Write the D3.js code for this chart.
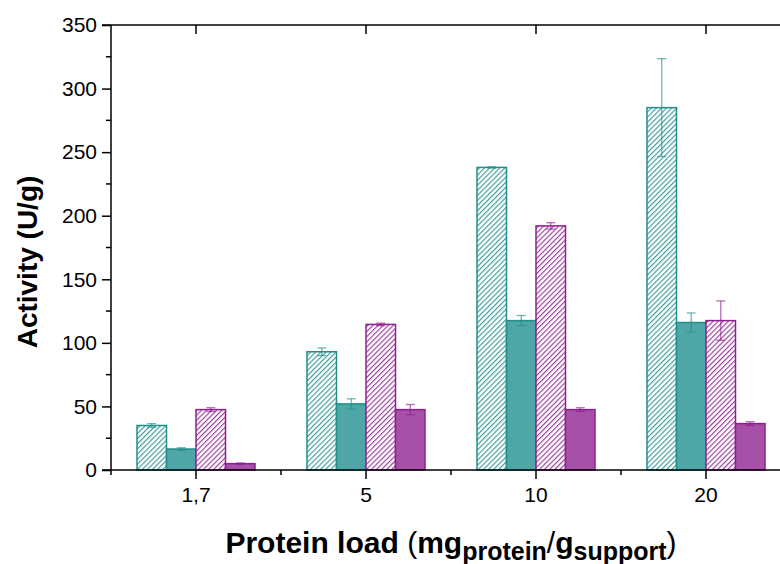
<!DOCTYPE html>
<html>
<head>
<meta charset="utf-8">
<script src="https://cdn.jsdelivr.net/npm/d3@7"></script>
<style>
  body { margin: 0; background: #fff; }
  svg { display: block; font-family: "Liberation Sans", Arial, sans-serif; }
</style>
</head>
<body>
<div id="chart"></div>
<script>
// data
var categories = ["1,7", "5", "10", "20"];
var seriesNames = ["tealHatched", "tealSolid", "purpleHatched", "purpleSolid"];
var tealHatched = [35, 93, 238, 285];
var tealSolid = [16.5, 52, 117.5, 116];
var purpleHatched = [47.5, 114.5, 192, 117.5];
var purpleSolid = [5, 47.5, 47.5, 36.5];
var tealHatchedErr = [1.5, 3, 0.5, 38.5];
var tealSolidErr = [1, 4, 4, 7.5];
var purpleHatchedErr = [1.5, 1, 2.5, 15.5];
var purpleSolidErr = [0.5, 4, 1.5, 1.5];
var yTicks = [0, 50, 100, 150, 200, 250, 300, 350];

var values = [tealHatched, tealSolid, purpleHatched, purpleSolid];
var errors = [tealHatchedErr, tealSolidErr, purpleHatchedErr, purpleSolidErr];

let width = 780;
let height = 564;
var margin = {left: 111, right: 791, top: 25, bottom: 470};

var teal = "#1f8e8d", tealFill = "#4ea7a6";
var purple = "#8e1f91", purpleFill = "#a650a7";
var strokes = [teal, teal, purple, purple];

var svg = d3.select("#chart").append("svg")
    .attr("width", width)
    .attr("height", height);

var defs = svg.append("defs");
function hatch(id, color) {
    var p = defs.append("pattern")
        .attr("id", id)
        .attr("patternUnits", "userSpaceOnUse")
        .attr("width", 3.6)
        .attr("height", 10)
        .attr("patternTransform", "rotate(45)");
    p.append("rect").attr("width", 3.6).attr("height", 10).attr("fill", "#fff");
    p.append("line")
        .attr("x1", 0.6).attr("x2", 0.6)
        .attr("y1", 0).attr("y2", 10)
        .attr("stroke", color)
        .attr("stroke-width", 1);
}
hatch("hatchTeal", teal);
hatch("hatchPurple", purple);
var fills = ["url(#hatchTeal)", tealFill, "url(#hatchPurple)", purpleFill];

var x = d3.scaleBand().domain(categories).range([margin.left, margin.right]);
var xSub = d3.scaleBand().domain(seriesNames).range([26, 144]);
var y = d3.scaleLinear().domain([0, 350]).range([margin.bottom, margin.top]);

// bars
var rows = [];
categories.forEach(function(c, i) {
    seriesNames.forEach(function(s, j) {
        rows.push({cat: c, s: s, j: j, v: values[j][i], e: errors[j][i]});
    });
});

svg.append("g").selectAll("rect")
    .data(rows)
    .enter().append("rect")
    .attr("x", function(d) { return x(d.cat) + xSub(d.s); })
    .attr("y", function(d) { return y(d.v); })
    .attr("width", xSub.bandwidth())
    .attr("height", function(d) { return y(0) - y(d.v); })
    .attr("fill", function(d) { return fills[d.j]; })
    .attr("stroke", function(d) { return strokes[d.j]; })
    .attr("stroke-width", 1.5);

// error bars
var eb = svg.append("g").selectAll("g")
    .data(rows)
    .enter().append("g")
    .attr("stroke", function(d) { return strokes[d.j]; })
    .attr("stroke-opacity", 0.65)
    .attr("stroke-width", 1.3)
    .attr("transform", function(d) { return "translate(" + (x(d.cat) + xSub(d.s) + xSub.bandwidth() / 2) + ",0)"; });
eb.append("line")
    .attr("y1", function(d) { return y(d.v - d.e); })
    .attr("y2", function(d) { return y(d.v + d.e); });
eb.append("line")
    .attr("x1", -4.5).attr("x2", 4.5)
    .attr("y1", function(d) { return y(d.v + d.e); })
    .attr("y2", function(d) { return y(d.v + d.e); });
eb.append("line")
    .attr("x1", -4.5).attr("x2", 4.5)
    .attr("y1", function(d) { return y(d.v - d.e); })
    .attr("y2", function(d) { return y(d.v - d.e); });

// y axis
var yAxis = d3.axisLeft(y).tickValues(yTicks).tickSize(9).tickPadding(5);
var gy = svg.append("g")
    .attr("transform", "translate(" + margin.left + ",0)")
    .call(yAxis);
gy.attr("font-family", null).attr("font-size", null);
gy.selectAll(".tick text").style("font-size", "21px");
gy.selectAll(".tick line").attr("stroke-width", 1.5);
gy.select(".domain").remove();
gy.selectAll(".minor")
    .data(d3.range(25, 350, 50))
    .enter().append("line")
    .attr("x1", -5).attr("x2", 0)
    .attr("y1", function(d) { return y(d); })
    .attr("y2", function(d) { return y(d); })
    .attr("stroke", "#000").attr("stroke-width", 1.5);

// x axis
var xAxis = d3.axisBottom(x).tickSize(9).tickPadding(8);
var gx = svg.append("g")
    .attr("transform", "translate(0," + margin.bottom + ")")
    .call(xAxis);
gx.attr("font-family", null).attr("font-size", null);
gx.selectAll(".tick text").style("font-size", "21px");
gx.selectAll(".tick line").attr("stroke-width", 1.5);
gx.select(".domain").remove();
gx.selectAll(".minor")
    .data(categories)
    .enter().append("line")
    .attr("x1", function(d) { return x(d); })
    .attr("x2", function(d) { return x(d); })
    .attr("y1", 0).attr("y2", 5)
    .attr("stroke", "#000").attr("stroke-width", 1.5);

// top ticks pointing in
svg.append("g").selectAll("line")
    .data(categories)
    .enter().append("line")
    .attr("x1", function(d) { return x(d) + x.bandwidth() / 2; })
    .attr("x2", function(d) { return x(d) + x.bandwidth() / 2; })
    .attr("y1", margin.top).attr("y2", margin.top + 9)
    .attr("stroke", "#000").attr("stroke-width", 1.5);

// frame lines
svg.append("line").attr("x1", margin.left).attr("x2", margin.left).attr("y1", margin.top).attr("y2", margin.bottom)
    .attr("stroke", "#000").attr("stroke-width", 1.5);
svg.append("line").attr("x1", margin.left - 9).attr("x2", width).attr("y1", margin.bottom).attr("y2", margin.bottom)
    .attr("stroke", "#000").attr("stroke-width", 1.5);
svg.append("line").attr("x1", margin.left - 9).attr("x2", width).attr("y1", margin.top).attr("y2", margin.top)
    .attr("stroke", "#000").attr("stroke-width", 1.5);

// axis titles
svg.append("text")
    .attr("transform", "translate(37,262) rotate(-90)")
    .attr("text-anchor", "middle")
    .style("font-size", "28px")
    .style("font-weight", "bold")
    .text("Activity (U/g)");

var xt = svg.append("text")
    .attr("x", 451)
    .attr("y", 553)
    .attr("text-anchor", "middle")
    .style("font-size", "30px");
xt.append("tspan").style("font-weight", "bold").text("Protein load ");
xt.append("tspan").text("(");
xt.append("tspan").style("font-weight", "bold").text("mg");
xt.append("tspan").style("font-weight", "bold").style("font-size", "25px").attr("dy", 7).text("protein");
xt.append("tspan").attr("dy", -7).text("/");
xt.append("tspan").style("font-weight", "bold").text("g");
xt.append("tspan").style("font-weight", "bold").style("font-size", "25px").attr("dy", 7).text("support");
xt.append("tspan").attr("dy", -7).text(")");
</script>
</body>
</html>
